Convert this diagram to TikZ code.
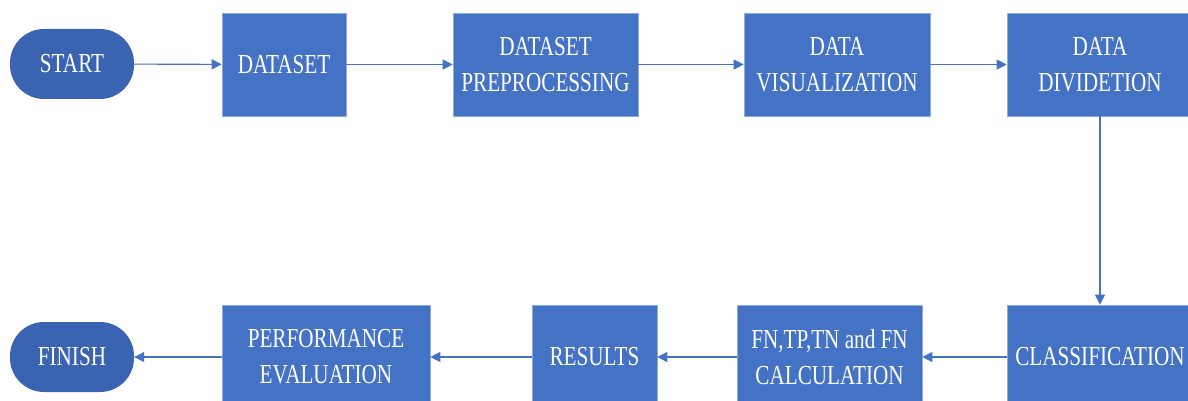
\documentclass[tikz,border=0pt]{standalone}
\usepackage{fontspec}
\setmainfont[FakeStretch=0.77]{Liberation Serif}
\usepackage{xcolor}
\usetikzlibrary{arrows.meta}
\usetikzlibrary{positioning}
\definecolor{boxblue}{HTML}{4472C4}
\definecolor{pillblue}{HTML}{3A64B2}
\tikzset{
    stepbox/.style = {rectangle, fill=boxblue, draw=boxblue!60!white, line width=0.6pt, align=center, inner sep=0pt, text=white, minimum height=103pt},
    endbox/.style = {rectangle, rounded corners=34pt, fill=pillblue, align=center, inner sep=0pt, text=white, minimum width=124pt, minimum height=70pt},
    flow/.style = {-{Triangle[length=10pt,width=10pt]}, draw=boxblue, line width=1.1pt},
}
\begin{document}
\begin{tikzpicture}[
	x=1pt, y=-1pt,
	font=\fontsize{27.5}{36}\selectfont
]
\clip (0,0) rectangle (1188,401);
\fill[white] (0,0) rectangle (1188,401);
% top row
\node[endbox] at (72,64) (start) {START};
\node[stepbox, minimum width=124pt] at (284,64.5) (dataset) {DATASET};
\node[stepbox, minimum width=185pt] at (545.5,64.5) (prep) {DATASET\\PREPROCESSING};
\node[stepbox, minimum width=186pt] at (837,64.5) (vis) {DATA\\VISUALIZATION};
\node[stepbox, minimum width=186pt] at (1100,64.5) (div) {DATA\\DIVIDETION};
% bottom row
\node[stepbox, minimum width=186pt, minimum height=104pt] at (1100,357) (class) {CLASSIFICATION};
\node[stepbox, minimum width=185pt, minimum height=104pt] at (829.5,357) (calc) {FN,TP,TN and FN\\CALCULATION};
\node[stepbox, minimum width=125pt, minimum height=104pt] at (594.5,357) (results) {RESULTS};
\node[stepbox, minimum width=208pt, minimum height=104pt] at (326,357) (perf) {PERFORMANCE\\EVALUATION};
\node[endbox] at (72,357) (finish) {FINISH};
%
\draw[flow] (start) -- (dataset);
\draw[flow] (dataset) -- (prep);
\draw[flow] (prep) -- (vis);
\draw[flow] (vis) -- (div);
\draw[flow] (div) -- (class);
%
\draw[flow] (class) -- (calc);
\draw[flow] (calc) -- (results);
\draw[flow] (results) -- (perf);
\draw[flow] (perf) -- (finish);
\end{tikzpicture}
\end{document}
